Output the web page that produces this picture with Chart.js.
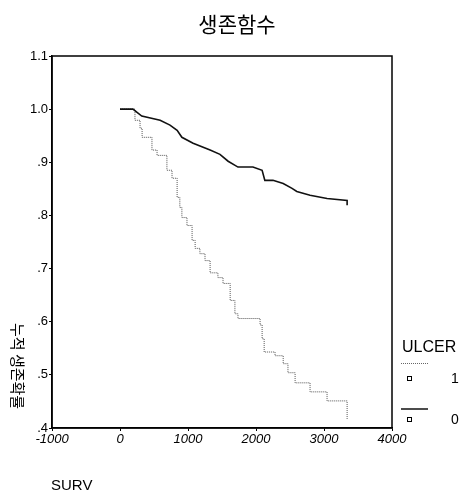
<!DOCTYPE html>
<html>
<head>
    <title>생존함수</title>
    <meta charset="UTF-8">
    <script src="https://cdn.jsdelivr.net/npm/chart.js"></script>
    <style>
        html, body { margin: 0; padding: 0; background: #fff; }
        #wrap { width: 460px; height: 498px; }
    </style>
</head>
<body>
    <div id="wrap"><canvas id="survChart" width="460" height="498"></canvas></div>
    <script>
        // ULCER = 0 (solid)
        const ulcer0Time = [0, 190, 320, 590, 735, 840, 910, 1075, 1325, 1470, 1590, 1735, 1955, 2090, 2130, 2250, 2400, 2530, 2600, 2795, 3045, 3340, 3340];
        const ulcer0Surv = [1.0, 1.0, 0.987, 0.979, 0.970, 0.960, 0.947, 0.936, 0.923, 0.915, 0.902, 0.891, 0.891, 0.885, 0.866, 0.866, 0.860, 0.851, 0.845, 0.838, 0.832, 0.828, 0.819];
        // ULCER = 1 (dotted)
        const ulcer1Time = [0, 190, 220, 295, 325, 410, 470, 545, 630, 690, 765, 840, 880, 910, 985, 1060, 1105, 1175, 1250, 1325, 1440, 1515, 1620, 1690, 1735, 1940, 2060, 2090, 2120, 2280, 2400, 2470, 2575, 2795, 3045, 3340, 3340];
        const ulcer1Surv = [1.0, 1.0, 0.979, 0.964, 0.947, 0.947, 0.923, 0.913, 0.913, 0.885, 0.870, 0.834, 0.815, 0.796, 0.781, 0.753, 0.738, 0.728, 0.715, 0.692, 0.683, 0.672, 0.640, 0.615, 0.606, 0.606, 0.594, 0.568, 0.543, 0.536, 0.521, 0.504, 0.485, 0.468, 0.451, 0.449, 0.417];

        const chartTitle = '생존함수';
        const yTitle = '누적 생존확률';
        const xTitle = 'SURV';
        const legendTitle = 'ULCER';
        const legendLabels = ['1', '0'];

        const toPoints = (xs, ys) => xs.map((x, i) => ({ x: x, y: ys[i] }));

        const decor = {
            id: 'decor',
            afterDraw(chart) {
                const c = chart.ctx;
                const a = chart.chartArea;
                c.save();
                // frame
                c.strokeStyle = '#000';
                c.lineWidth = 1.5;
                c.strokeRect(a.left, a.top, a.right - a.left, a.bottom - a.top);

                c.fillStyle = '#000';
                c.font = '21px "Noto Sans CJK KR"';
                c.textAlign = 'center';
                c.textBaseline = 'middle';
                c.fillText(chartTitle, 237, 24);

                // y title, reading downward
                c.save();
                c.translate(18, 366);
                c.rotate(Math.PI / 2);
                c.font = '15px "Noto Sans CJK KR"';
                c.fillText(yTitle, 0, 0);
                c.restore();

                c.textAlign = 'left';
                c.font = '15px "Liberation Sans", Arial';
                c.fillText(xTitle, 51, 486);

                // legend
                c.font = '16px "Liberation Sans", Arial';
                c.fillText(legendTitle, 402, 348);
                c.font = '14px "Liberation Sans", Arial';

                c.strokeStyle = '#666';
                c.lineWidth = 1;
                c.setLineDash([1, 1]);
                c.beginPath(); c.moveTo(401, 363.5); c.lineTo(428, 363.5); c.stroke();
                c.setLineDash([]);
                c.strokeStyle = '#111';
                c.lineWidth = 1.5;
                c.beginPath(); c.moveTo(401, 409); c.lineTo(428, 409); c.stroke();

                c.lineWidth = 1;
                c.strokeStyle = '#000';
                c.strokeRect(407.5, 376.5, 4, 4);
                c.strokeRect(407.5, 417.5, 4, 4);
                c.fillText(legendLabels[0], 451, 379);
                c.fillText(legendLabels[1], 451, 420);
                c.restore();
            }
        };

        const ctx = document.getElementById('survChart').getContext('2d');
        const chart = new Chart(ctx, {
            type: 'line',
            data: {
                datasets: [{
                    label: legendLabels[1],
                    data: toPoints(ulcer0Time, ulcer0Surv),
                    borderColor: '#111',
                    borderWidth: 1.6,
                    stepped: false,
                    tension: 0,
                    pointRadius: 0
                }, {
                    label: legendLabels[0],
                    data: toPoints(ulcer1Time, ulcer1Surv),
                    borderColor: '#555',
                    borderWidth: 1,
                    borderDash: [1, 1],
                    stepped: true,
                    pointRadius: 0
                }]
            },
            options: {
                responsive: false,
                animation: false,
                layout: { padding: { top: 56, right: 68, bottom: 0, left: 0 } },
                scales: {
                    x: {
                        type: 'linear',
                        min: -1000,
                        max: 4000,
                        ticks: {
                            stepSize: 1000,
                            padding: 1,
                            color: '#000',
                            font: { family: '"Liberation Sans", Arial', size: 13, style: 'italic' },
                            callback: (v) => String(v)
                        },
                        grid: { drawOnChartArea: false, tickLength: 3, color: '#000' },
                        border: { color: '#000', width: 1.5 },
                        afterFit(scale) { scale.height = 70; }
                    },
                    y: {
                        min: 0.4,
                        max: 1.1,
                        ticks: {
                            stepSize: 0.1,
                            padding: 1,
                            color: '#000',
                            font: { family: '"Liberation Sans", Arial', size: 13 },
                            callback: (v) => {
                                const s = (Math.round(v * 10) / 10).toFixed(1);
                                return s.startsWith('0') ? s.slice(1) : s;
                            }
                        },
                        grid: { drawOnChartArea: false, tickLength: 3, color: '#000' },
                        border: { color: '#000', width: 1.5 },
                        afterFit(scale) { scale.width = 52; }
                    }
                },
                plugins: {
                    legend: { display: false },
                    tooltip: { enabled: false }
                }
            },
            plugins: [decor]
        });
    </script>
</body>
</html>
